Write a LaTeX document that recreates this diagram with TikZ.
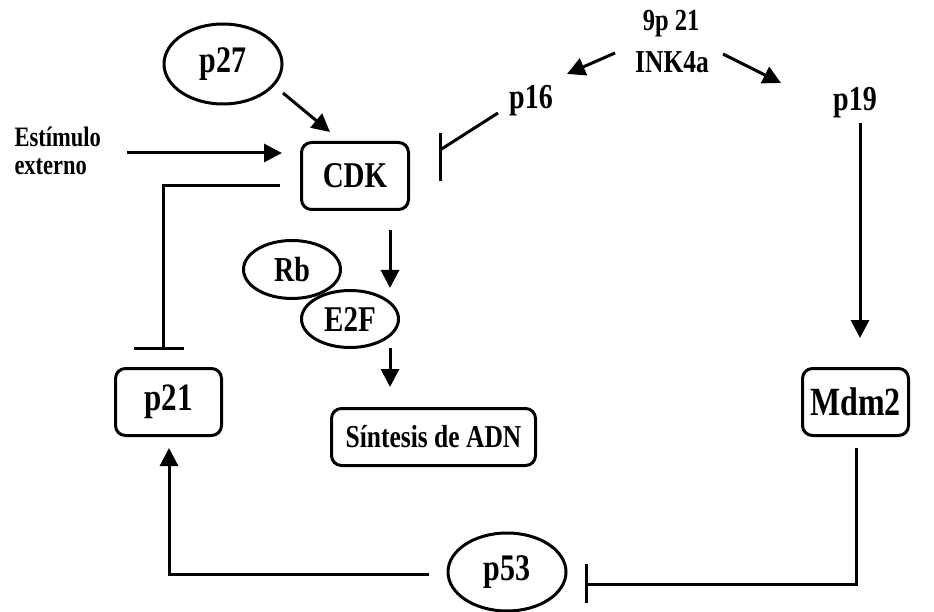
\documentclass[tikz,border=0pt]{standalone}
\usepackage{fontspec}
\setmainfont{Liberation Serif}
\usetikzlibrary{arrows.meta,shapes.geometric}
\newcommand\stretchtxt[1]{\scalebox{1}[1.25]{#1}}
\begin{document}
\begin{tikzpicture}[x=1pt,y=-1pt,line width=3pt,
  box/.style={draw,rounded corners=10pt,inner sep=0pt,font=\bfseries},
  ell/.style={draw,ellipse,inner sep=0pt,font=\bfseries},
  lbl/.style={inner sep=0pt,font=\bfseries},
  arr/.style={-{Triangle[length=18pt,width=18pt]}},
  fs/.style={font=\bfseries\fontsize{#1}{#1}\selectfont}]
\useasboundingbox (0,0) rectangle (934,612);
% nodes
\node[ell,fs=30,minimum width=118pt,minimum height=80pt] (p27) at (223,64) {\stretchtxt{p27}};
\node[box,fs=29,minimum width=107pt,minimum height=67pt] (cdk) at (355,176) {\stretchtxt{CDK}};
\node[box,fs=31,minimum width=106pt,minimum height=67pt] (p21) at (168.5,402) {\stretchtxt{p21}};
\node[box,fs=32,minimum width=106pt,minimum height=67pt] (mdm2) at (855.5,402) {\stretchtxt{Mdm2}};
\node[box,fs=25.5,minimum width=204pt,minimum height=57pt] (sint) at (433.5,437) {\stretchtxt{Síntesis de ADN}};
\node[ell,fs=28,minimum width=97pt,minimum height=58pt] (rb) at (292,269.5) {\stretchtxt{Rb}};
\node[ell,fs=29,minimum width=97pt,minimum height=57pt] (e2f) at (350,319) {\stretchtxt{E2F}};
\node[ell,fs=30,minimum width=118pt,minimum height=78pt] (p53) at (507,572) {\stretchtxt{p53}};
\node[lbl,anchor=west,align=left,font=\bfseries\fontsize{22.5}{28}\selectfont] (est) at (13,151) {\stretchtxt{Estímulo}\\\stretchtxt{externo}};
\node[lbl,fs=24.5] (ninep) at (671,24) {\stretchtxt{9p 21}};
\node[lbl,fs=25.5] (ink) at (672,62) {\stretchtxt{INK4a}};
\node[lbl,fs=28] (p16) at (531,101) {\stretchtxt{p16}};
\node[lbl,fs=28] (p19) at (855,103) {\stretchtxt{p19}};
% coordinates
\coordinate (b21) at (163,348);
\coordinate (b16) at (440,150);
\coordinate (b53) at (586,584);
% connectors
\draw[arr] ([shift={(60,29)}]p27.center) -- ([shift={(-25,-44)}]cdk.center);
\draw[arr] ([shift={(25,2)}]est.east) -- ([shift={(-18,-23)}]cdk.west);
\draw ([shift={(-20,10)}]cdk.west) -| (b21);
\draw (134,348) -- (184,348);
\draw ([shift={(-33,12)}]p16.center) -- (b16);
\draw (440,133) -- (440,181);
\draw[arr] ([shift={(-57,-9)}]ink.center) -- ([shift={(-105,12)}]ink.center);
\draw[arr] ([shift={(51,-8)}]ink.center) -- ([shift={(109,21)}]ink.center);
\draw[arr] ([shift={(5,20)}]p19.center) -- ([shift={(4.5,-64)}]mdm2.center);
\draw ([shift={(0.5,46)}]mdm2.center) |- (b53);
\draw (586,564) -- (586,603);
\draw[arr] ([shift={(-78,2)}]p53.center) -| ([shift={(0.5,46)}]p21.center);
\draw[arr] ([shift={(35,54)}]cdk.center) -- ([shift={(40,-31)}]e2f.center);
\draw[arr] ([shift={(40,29)}]e2f.center) -- ([shift={(-43.5,-50)}]sint.center);
\end{tikzpicture}
\end{document}
